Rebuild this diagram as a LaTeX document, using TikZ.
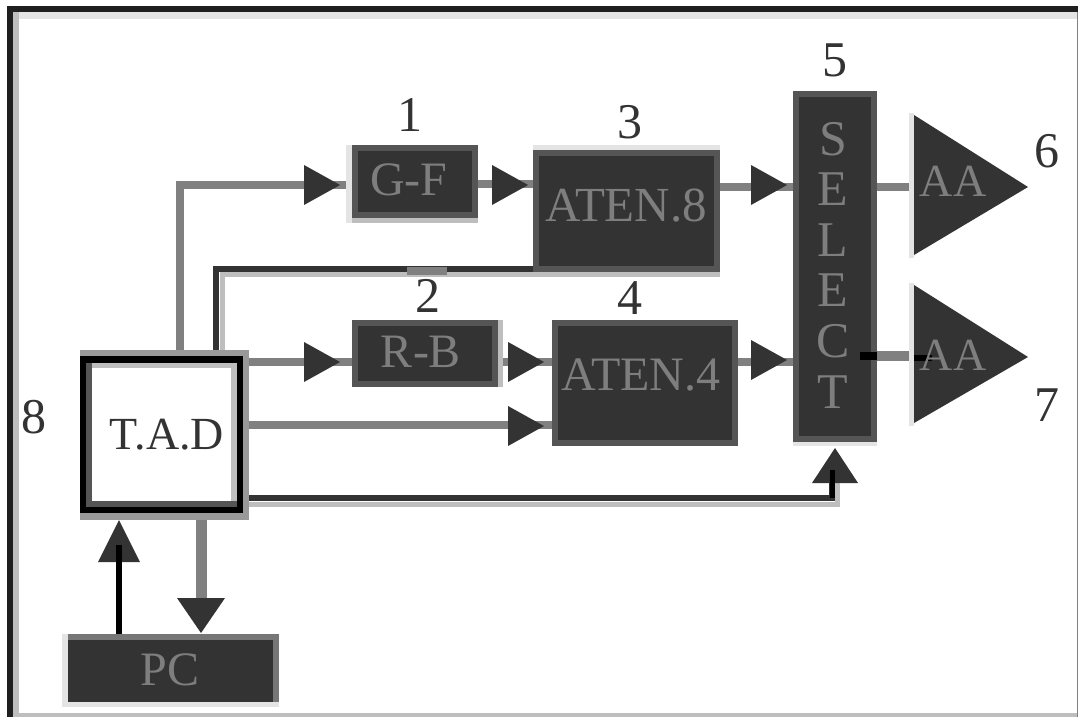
\documentclass[tikz,border=0pt]{standalone}
\usepackage{fontspec}
\setmainfont{Liberation Serif}
\usetikzlibrary{backgrounds}
\definecolor{dk}{HTML}{333333}
\definecolor{ln}{HTML}{808080}
\definecolor{lt}{HTML}{BEBEBE}
\definecolor{vlt}{HTML}{E4E4E4}
\definecolor{bd}{HTML}{555555}
\definecolor{lbl}{HTML}{7E7E7E}
\tikzset{
 x=1pt,y=-1pt,
 box/.style={draw=bd,line width=6pt,fill=dk,inner sep=0pt,minimum width=#1},
 lab/.style={text=lbl,inner sep=0pt,font=\fontsize{48}{48}\selectfont},
 num/.style={inner sep=0pt,text=black!80,font=\fontsize{50}{50}\selectfont},
 conn/.style={draw=ln,line width=8pt},
 darkconn/.style={draw=dk,line width=6pt},
 liteconn/.style={draw=lt,line width=5pt},
 blk/.style={draw=black,line width=6pt},
 solid block/.style={draw=none,inner sep=0pt,outer sep=0pt,fill=#1},
}
\newcommand{\rtip}[2]{\fill[dk] (#1,#2-20) -- (#1+36,#2) -- (#1,#2+20) -- cycle;}
\begin{document}
\begin{tikzpicture}
\useasboundingbox (0,0) rectangle (1078,717);
% strips behind boxes
\fill[lt] (352,218) rectangle (478,223);
\fill[vlt] (346,145) rectangle (352,223);
\fill[vlt] (533,145) rectangle (720,150);
\fill[lt] (533,272) rectangle (720,277);
\fill[lt] (498,320) rectangle (503,387);
\fill[vlt] (793,442) rectangle (877,446);
\fill[gray!80] (80,350) rectangle (249,520);
\fill[vlt] (62,634) rectangle (68,707);
\fill[vlt] (68,702) rectangle (279,707);
% boxes
\node[box=120,minimum height=67] (gf) at (415,181.5) {};
\node[lab] (gft) at (409,180) {G-F};
\node[box=181,minimum height=116] (at8) at (626.5,211) {};
\node[lab,font=\fontsize{49}{49}\selectfont] (at8t) at (626,206) {ATEN.8};
\node[box=140,minimum height=61] (rb) at (425,353.5) {};
\node[lab] (rbt) at (421,352) {R-B};
\node[box=180,minimum height=120] (at4) at (645,383) {};
\node[lab,font=\fontsize{48}{48}\selectfont] (at4t) at (641,375) {ATEN.4};
\node[box=78,minimum height=345] (sel) at (835,266.5) {};
\node[lab,align=center,font=\fontsize{50}{50.6}\selectfont] (selt) at (833,265) {S\\E\\L\\E\\C\\T};
% T.A.D block
\node[solid block=black,minimum width=163,minimum height=157] (tad) at (161.5,434.5) {};
\fill[bd] (86,363) rectangle (237,507);
\fill[lt] (92,363) rectangle (237,501);
\fill[white] (92,368) rectangle (231,501);
\node[inner sep=0pt,text=black!80,font=\fontsize{46}{46}\selectfont] (tadt) at (167,435) {T.A.D};
% PC
\node[solid block=bd!80,minimum width=211,minimum height=68] (pc) at (173.5,668) {};
\fill[dk] (68,640) rectangle (273,702);
\node[lab] (pct) at (170,670) {PC};
% labels
\node[num] (n1) at (410,115) {1};
\node[num] (n2) at (428,296) {2};
\node[num] (n3) at (630,122) {3};
\node[num] (n4) at (630,298) {4};
\node[num] (n5) at (835,60) {5};
\node[num] (n6) at (1047,151) {6};
\node[num] (n7) at (1047,405) {7};
\node[num] (n8) at (34,417) {8};
% free ends and routing points
\coordinate (a6) at (914,187);
\coordinate (a7) at (914,356);
\coordinate (b7) at (860,356);
\coordinate (c7) at (932,358);
\coordinate (d7) at (914,358);
\coordinate (t5) at (837.5,470);
\coordinate (t5b) at (832,470);
\coordinate (tipd) at (201,600);
\coordinate (tipu) at (118.5,545);
\coordinate (tadA) at ([xshift=18.5pt]tad.north);
\coordinate (tadB) at ([xshift=54.5pt]tad.north);
\coordinate (tadBl) at ([xshift=60.5pt]tad.north);
\coordinate (tadD) at ([xshift=39.5pt]tad.south);
\coordinate (r0) at ([yshift=-3.5pt]gf.west);
\coordinate (r0b) at ([yshift=-2.5pt]gf.east);
\coordinate (r1) at ([yshift=-8pt]rb.west);
\coordinate (r3) at ([yshift=-42pt]at4.west);
\coordinate (r4) at ([yshift=15pt]tad.south east);
\coordinate (r5) at ([yshift=9pt]tad.south east);
\coordinate (s8d) at ([yshift=3pt]at8.south west);
\coordinate (s8l) at ([yshift=-2.5pt]at8.south west);
\coordinate (g) at (n2 |- at8.south);
\begin{pgfonlayer}{background}
\fill[white] (0,0) rectangle (1078,717);
% frame
\fill[vlt] (13,12) rectangle (1078,19);
\fill[lt] (13,12) rectangle (19,713);
\fill[lt] (13,713) rectangle (1078,717);
\fill[black!88] (7,6) rectangle (1078,12);
\fill[black!88] (7,6) rectangle (13,717);
\fill[gray] (1077,12) rectangle (1078,717);
% connectors
\draw[conn] (tadA) |- (r0);
\draw[conn] (r0b) -- (r0b -| at8.west);
\draw[conn] (at8.east |- a6) -- (sel.west |- a6);
\draw[conn] (sel.east |- a6) -- (a6);
\draw[liteconn] (tadBl) |- (s8l);
\draw[darkconn] (tadB) |- (s8d);
\draw[conn] (tad.east |- r1) -- (r1);
\draw[conn] (r1 -| rb.east) -- (r1 -| at4.west);
\draw[conn] (r1 -| at4.east) -- (r1 -| sel.west);
\draw[conn] (r3 -| tad.east) -- (r3);
\draw[liteconn] (r5) -| (t5);
\draw[darkconn] (r4) -| (t5b);
\draw[conn,line width=11pt] (tadD) -- (tipd);
\draw[conn,line width=10pt] (sel.east |- a7) -- (a7);
\end{pgfonlayer}
\draw[conn] ([shift={(-21pt,1pt)}]g) -- ([shift={(19pt,1pt)}]g);
% tips
\rtip{304}{185}\rtip{492}{185}\rtip{751}{185}
\rtip{304}{362}\rtip{508}{362}\rtip{751}{360}\rtip{508}{426}
\fill[dk] (812,483) -- (835,448) -- (858,483) -- cycle;
\draw[black,line width=5pt] (r4 -| t5b) -- (t5b);
\fill[dk] (98,562) -- (119,520) -- (140,562) -- cycle;
\fill[dk] (177,598) -- (201,633) -- (225,598) -- cycle;
\draw[blk] (tipu |- pc.north) -- (tipu);
% amps
\fill[vlt] (909,113) rectangle (914,258);
\fill[vlt] (909,283) rectangle (914,426);
\fill[dk] (914,115) -- (1028,187) -- (914,255) -- cycle;
\fill[dk] (914,285) -- (1028,357) -- (914,423) -- cycle;
\draw[black,line width=8pt] (b7) -- (b7 -| sel.east);
\draw[black,line width=6pt] (d7) -- (c7);
\node[lab,font=\fontsize{46}{46}\selectfont] (aa1) at (953,181) {AA};
\node[lab,font=\fontsize{46}{46}\selectfont] (aa2) at (953,355) {AA};
\end{tikzpicture}
\end{document}
